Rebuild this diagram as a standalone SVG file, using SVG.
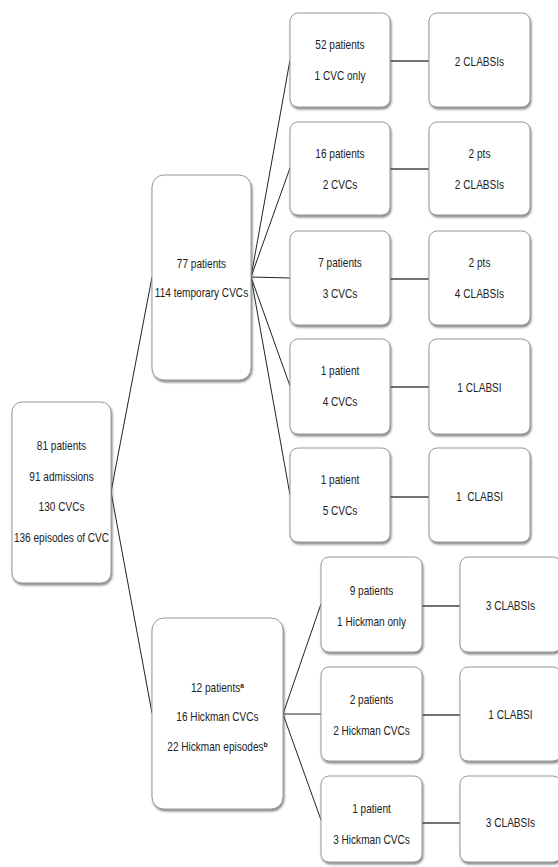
<svg xmlns="http://www.w3.org/2000/svg" width="558" height="867" viewBox="0 0 558 867">
<style>
.box{fill:#ffffff;stroke:#9a9a9a;stroke-width:1;filter:url(#sh)}
.t{font-family:"Liberation Sans",Arial,sans-serif;font-size:12px;fill:#222;text-anchor:middle}
.sup{font-size:8px;font-weight:bold}
.d{stroke:#222;stroke-width:1;fill:none}
.h{stroke:#444;stroke-width:1.6;fill:none}
</style>
<defs>
<filter id="sh" x="-10%" y="-10%" width="125%" height="125%">
<feDropShadow dx="1" dy="2" stdDeviation="1.2" flood-color="#555" flood-opacity="0.7"/>
</filter>
</defs>
<rect width="558" height="867" fill="#ffffff"/>
<g id="connectors">
<path class="d" d="M111 492 L152 277 M111 492 L152 713"/>
<path class="d" d="M251 277 L290 60 M251 277 L290 168 M251 277 L290 278 M251 277 L290 386 M251 277 L290 495"/>
<path class="d" d="M283 714 L321 604 M283 714 L321 714 M283 714 L321 820"/>
<path class="h" d="M390 61 H429 M390 169 H429 M390 279 H429 M390 387 H429 M390 497 H429"/>
<path class="h" d="M422 606 H460 M422 715 H460 M422 823 H460"/>
</g>
<g id="root"><rect class="box" x="12" y="402" width="99" height="181" rx="10"/>
<g transform="translate(61.5,0) scale(0.84,1)">
<text class="t" x="0" y="450">81 patients</text>
<text class="t" x="0" y="481">91 admissions</text>
<text class="t" x="0" y="511">130 CVCs</text>
<text class="t" x="0" y="542">136 episodes of CVC</text></g></g>
<g id="temp"><rect class="box" x="152" y="175" width="99" height="205" rx="12"/>
<g transform="translate(201.5,0) scale(0.84,1)">
<text class="t" x="0" y="268">77 patients</text>
<text class="t" x="0" y="297">114 temporary CVCs</text></g></g>
<g id="hickman"><rect class="box" x="152" y="618" width="131" height="191" rx="12"/>
<g transform="translate(217.5,0) scale(0.84,1)">
<text class="t" x="0" y="692">12 patients<tspan class="sup" dy="-4">a</tspan></text>
<text class="t" x="0" y="721">16 Hickman CVCs</text>
<text class="t" x="0" y="751">22 Hickman episodes<tspan class="sup" dy="-4">b</tspan></text></g></g>
<g id="t1"><rect class="box" x="290" y="13" width="100" height="94" rx="8"/>
<g transform="translate(340,0) scale(0.84,1)"><text class="t" x="0" y="49">52 patients</text><text class="t" x="0" y="80">1 CVC only</text></g></g>
<g id="t1o"><rect class="box" x="429" y="13" width="101" height="94" rx="8"/>
<g transform="translate(479.5,0) scale(0.84,1)"><text class="t" x="0" y="66">2 CLABSIs</text></g></g>
<g id="t2"><rect class="box" x="290" y="122" width="100" height="93" rx="8"/>
<g transform="translate(340,0) scale(0.84,1)"><text class="t" x="0" y="158">16 patients</text><text class="t" x="0" y="189">2 CVCs</text></g></g>
<g id="t2o"><rect class="box" x="429" y="122" width="101" height="93" rx="8"/>
<g transform="translate(479.5,0) scale(0.84,1)"><text class="t" x="0" y="158">2 pts</text><text class="t" x="0" y="189">2 CLABSIs</text></g></g>
<g id="t3"><rect class="box" x="290" y="231" width="100" height="94" rx="8"/>
<g transform="translate(340,0) scale(0.84,1)"><text class="t" x="0" y="267">7 patients</text><text class="t" x="0" y="298">3 CVCs</text></g></g>
<g id="t3o"><rect class="box" x="429" y="231" width="101" height="94" rx="8"/>
<g transform="translate(479.5,0) scale(0.84,1)"><text class="t" x="0" y="267">2 pts</text><text class="t" x="0" y="298">4 CLABSIs</text></g></g>
<g id="t4"><rect class="box" x="290" y="339" width="100" height="95" rx="8"/>
<g transform="translate(340,0) scale(0.84,1)"><text class="t" x="0" y="375">1 patient</text><text class="t" x="0" y="406">4 CVCs</text></g></g>
<g id="t4o"><rect class="box" x="429" y="339" width="101" height="95" rx="8"/>
<g transform="translate(479.5,0) scale(0.84,1)"><text class="t" x="0" y="392">1 CLABSI</text></g></g>
<g id="t5"><rect class="box" x="290" y="448" width="100" height="94" rx="8"/>
<g transform="translate(340,0) scale(0.84,1)"><text class="t" x="0" y="484">1 patient</text><text class="t" x="0" y="515">5 CVCs</text></g></g>
<g id="t5o"><rect class="box" x="429" y="448" width="101" height="94" rx="8"/>
<g transform="translate(479.5,0) scale(0.84,1)"><text class="t" x="0" y="501" xml:space="preserve">1  CLABSI</text></g></g>
<g id="h1"><rect class="box" x="321" y="557" width="101" height="95" rx="8"/>
<g transform="translate(371.5,0) scale(0.84,1)"><text class="t" x="0" y="595">9 patients</text><text class="t" x="0" y="626">1 Hickman only</text></g></g>
<g id="h1o"><rect class="box" x="460" y="557" width="101" height="95" rx="8"/>
<g transform="translate(510.5,0) scale(0.84,1)"><text class="t" x="0" y="610">3 CLABSIs</text></g></g>
<g id="h2"><rect class="box" x="321" y="667" width="101" height="94" rx="8"/>
<g transform="translate(371.5,0) scale(0.84,1)"><text class="t" x="0" y="704">2 patients</text><text class="t" x="0" y="735">2 Hickman CVCs</text></g></g>
<g id="h2o"><rect class="box" x="460" y="667" width="101" height="94" rx="8"/>
<g transform="translate(510.5,0) scale(0.84,1)"><text class="t" x="0" y="719">1 CLABSI</text></g></g>
<g id="h3"><rect class="box" x="321" y="776" width="101" height="86" rx="8"/>
<g transform="translate(371.5,0) scale(0.84,1)"><text class="t" x="0" y="813">1 patient</text><text class="t" x="0" y="844">3 Hickman CVCs</text></g></g>
<g id="h3o"><rect class="box" x="460" y="776" width="101" height="86" rx="8"/>
<g transform="translate(510.5,0) scale(0.84,1)"><text class="t" x="0" y="827">3 CLABSIs</text></g></g>
</svg>
